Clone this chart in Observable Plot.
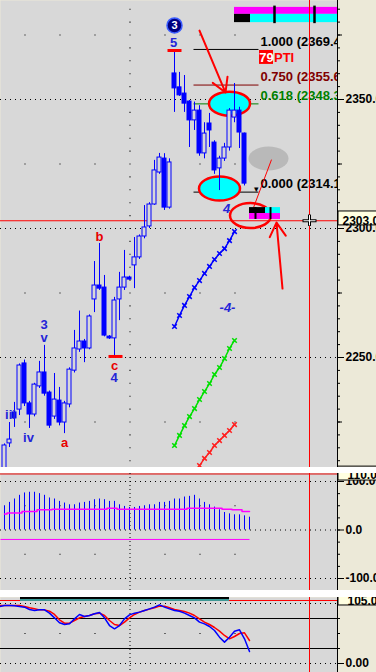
<!DOCTYPE html>
<html>
<head>
<meta charset="utf-8">
<script src="https://cdn.jsdelivr.net/npm/d3@7"></script>
<script src="https://cdn.jsdelivr.net/npm/@observablehq/plot@0.6"></script>
<style>
html,body{margin:0;padding:0;background:#fff;overflow:hidden;}
#chart{position:relative;width:376px;height:672px;overflow:hidden;background:#fff;}
.pane{position:absolute;left:0;width:376px;overflow:hidden;}
.pane svg{display:block;}
</style>
</head>
<body>
<div id="chart">
  <div class="pane" id="pricePane" style="top:0;height:467px"></div>
  <div class="pane" id="oscPane" style="top:473px;height:117px"></div>
  <div class="pane" id="stochPane" style="top:597px;height:75px"></div>
</div>
<script>
// ---------------- DATA ----------------
const opens  = [2205,2216.7,2228.7,2229.8,2247.7,2232.2,2227.9,2238.8,2244.2,2236.4,2227.1,2233.3,2224.8,2231.8,2244.9,2253.1,2256.2,2253.5,2272.5,2277.9,2277.1,2258.1,2257.4,2272.5,2277.1,2281,2285.7,2288.8,2296.9,2300.8,2309.3,2321.7,2327.1,2308.1,2360.1,2354.7,2352.3,2349.2,2341.9,2345.7,2329.1,2340.7,2333.3,2323.3,2327.1,2331.4,2343,2345.7,2336.8];
const highs  = [2216.5,2224.8,2232.6,2247.5,2249,2233,2240,2248.5,2254.7,2237,2243.8,2238.4,2233,2246,2260.5,2268,2257,2266.5,2287.2,2294.2,2281.8,2258.5,2273.3,2283,2291.5,2281.5,2296.5,2297.5,2308.9,2310,2326.4,2329.1,2329,2327,2369,2360.5,2359.3,2349.6,2349,2347.6,2341,2344.6,2334,2328,2333,2346.5,2356.2,2347,2337];
const lows   = [2203,2215.1,2222.9,2227.5,2231,2222.5,2227,2238,2235,2222.5,2226,2223.5,2220.5,2230.5,2244,2252,2248,2253,2267.4,2276,2258,2257,2250,2264.3,2276,2280,2276.7,2288,2296,2300,2309,2321,2307,2307.5,2345,2351.2,2345,2331.4,2338,2328,2327,2331.4,2321,2314.7,2326,2330,2341,2331,2316.5];
const closes = [2215.9,2218.2,2226.4,2246.9,2232.2,2227.9,2239.5,2244.2,2236.0,2223.6,2233.7,2224.8,2232.2,2245.3,2253.5,2256.2,2253.5,2265.9,2277.9,2276.7,2258.5,2257.4,2272.1,2277.1,2281,2280.2,2288.8,2296.9,2300.4,2309.3,2322.5,2327.5,2308.1,2325.6,2354.3,2351.6,2348.4,2341.9,2345.7,2329.1,2336.8,2338.0,2322.5,2327.1,2331.4,2345.7,2345.7,2337.2,2317.4];

// projection channels (start bar index + values)
const projBlueStart = 34;
const projBlue  = [2262.0,2266.3,2270.2,2273.6,2277.1,2279.8,2282.6,2285.3,2288.0,2290.3,2292.2,2295.3,2298.8];
const projGreenStart = 34;
const projGreen = [2215.9,2219.8,2223.6,2227.1,2230.2,2233.7,2236.8,2239.9,2243.4,2246.1,2249.6,2253.5,2256.6];
const projRedStart = 39;
const projRed   = [2208.1,2210.9,2213.2,2215.9,2217.8,2219.8,2221.7,2224.0];

// Fibonacci retracement
const fibRatios = ["1.000","0.750","0.618","0.000"];
const fibPrices = [2369.4,2355.6,2348.3,2314.1];
const fibColors = ["#000000","#800000","#008000","#000000"];
const fibFrom = 37.8, fibTo = 50.8, fibLabelAt = 51.2;

// wave labels
const waveText   = ["iii","iv","3","v","a","b","c","4","5"];
const waveBar    = [1.2,4.8,7.9,7.9,12,19,22,21.9,33.8];
const wavePrice  = [2227.9,2218.8,2262.8,2257.6,2216.9,2296.9,2246.7,2242.1,2372.1];
const waveIsRed  = [false,false,false,false,true,true,true,false,false];

// oscillator panel (bar 0..49)
const histValues = [50,56.9,63.9,71.5,76.4,77.8,77.8,75,71.5,66,63.9,59,55.6,52,52,55.6,56.9,59,62.5,63.9,62.5,59,59,52,48.6,46.5,46.5,48.6,50,52,52,56.9,56.9,59,63.9,63.9,68,69.4,71.5,63.9,56.9,52,47.2,41.7,36.1,33.3,31.3,31.3,29.2,26.4];
const signalValues = [33,35,35,35,38,38,38,42,42,42,43,43,43,43,43,43,43,43,43,43,43,45,45,43,43,43,43,43,43,43,43,43,43,43,43,43,43,45,45,45,45,45,45,45,43,43,42,42,38,38];
const signalFloor = -19.5;

// stochastic panel (bar -1..49)
const stochK = [95,96.7,96.7,96.1,95,93.9,90,88.3,89.4,89.4,83.9,76.1,67.8,65,66.1,74.4,81.7,78.3,80,82.8,85,76.1,63.3,57.8,63.3,74.4,81.1,83.9,85.6,88.3,91.1,93.9,97.8,93.9,91.1,88.3,87.2,83.9,80,76.1,68.9,66.1,61.7,55,43.9,35.6,43.9,53.9,56.1,41.1,20];
const stochD = [96.7,96.7,96.7,96.7,96.7,95,92.8,91.1,89.4,89.4,87.2,81.7,72.8,67.2,67.2,71.7,76.1,78.3,80,82.8,83.9,80,71.7,65,63.3,68.9,76.1,81.7,85.6,88.3,90.6,92.8,95.6,95.6,92.8,90,88.3,86.7,83.9,80,74.4,68.9,65,60,53.9,46.7,41.1,45,50,51.1,38.3];

// axis ticks
const priceTicks = [2250,2300,2350];
const oscTicks = [-100,0,100];
const stochTicks = [0];
const lastPrice = 2303.0;

// ---------------- STYLE / LAYOUT ----------------
const FONT = "Liberation Sans, Arial, sans-serif";
const BLUE = "#0000ff", BG = "#d8d8d8", AXISBG = "#ece9d8";
const LBLUE = "#2424d8", LRED = "#e80000";
const X = {domain: [-0.8, 66.6], range: [0, 337], axis: null};
const CURSOR_BAR = 61, GRID_BAR = 25.1, RIGHT_EDGE = 66.6;
const sparseBars = [4.1, 11.1, 18.1, 32.1, 39.1, 46.1];
const dotted = {stroke: "#000", strokeDasharray: "1,4"};
const sq = {symbol: "square", r: 0.6, fill: "#000", stroke: "none"};

function ellipse(rx, ry) {
  const k = 0.5523;
  return {draw(c) {
    c.moveTo(rx, 0);
    c.bezierCurveTo(rx, ry*k, rx*k, ry, 0, ry);
    c.bezierCurveTo(-rx*k, ry, -rx, ry*k, -rx, 0);
    c.bezierCurveTo(-rx, -ry*k, -rx*k, -ry, 0, -ry);
    c.bezierCurveTo(rx*k, -ry, rx, -ry*k, rx, 0);
    c.closePath();
  }};
}
const baseStyle = {background: AXISBG, fontFamily: FONT, fontSize: "12px", color: "#000", overflow: "hidden"};

// ---------------- PRICE PANEL ----------------
const bars = opens.map((o, i) => ({i, o, h: highs[i], l: lows[i], c: closes[i]}));
const upBars = bars.filter(d => d.c >= d.o), downBars = bars.filter(d => d.c < d.o);
const proj = (start, arr) => arr.map((p, k) => ({i: start + k, p}));
const fib = fibRatios.map((r, k) => ({r, p: fibPrices[k], color: fibColors[k], label: `${r} (${fibPrices[k].toFixed(1)})`}));
const waves = waveText.map((t, k) => ({t, i: waveBar[k], p: wavePrice[k], color: waveIsRed[k] ? LRED : LBLUE}));
const gridLevels = [2225, 2275, 2325, 2375];
const gridDots = d3.cross(sparseBars, gridLevels);
const vDots = d3.range(2210, 2390, 5).map(p => [GRID_BAR, p]);
const minor5 = d3.range(2210, 2390, 5), minor25 = d3.range(2225, 2390, 50);

const pricePlot = Plot.plot({
  width: 376, height: 467, marginLeft: 0, marginRight: 39, marginTop: 0, marginBottom: 0,
  style: baseStyle, color: {type: "identity"},
  x: X, y: {domain: [2250, 2350], range: [357, 99], axis: null},
  marks: [
    Plot.frame({fill: BG, stroke: "none"}),
    Plot.dot(gridDots, {x: d => d[0], y: d => d[1], ...sq}),
    Plot.dot(vDots, {x: d => d[0], y: d => d[1], ...sq}),
    Plot.ruleY(priceTicks, dotted),
    // fib lines
    Plot.link(fib, {x1: fibFrom, x2: fibTo, y1: "p", y2: "p", stroke: "color", strokeWidth: 1}),
    // ellipses (background)
    Plot.dot([{i: 52.8, p: 2327.1}], {x: "i", y: "p", r: 1, symbol: ellipse(20, 12), fill: "#b9b9b9", stroke: "none"}),
    Plot.dot([{i: 45, p: 2348.4}, {i: 43, p: 2315.5}], {x: "i", y: "p", r: 1, symbol: ellipse(20.5, 12), fill: "#00ffff", stroke: "#ff0000", strokeWidth: 2.5}),
    Plot.ruleY([lastPrice], {stroke: "#ff0000"}),
    // projections
    Plot.line(proj(projBlueStart, projBlue), {x: "i", y: "p", stroke: BLUE, clip: true}),
    Plot.dot(proj(projBlueStart, projBlue), {x: "i", y: "p", symbol: "times", r: 2.2, stroke: BLUE, clip: true}),
    Plot.line(proj(projGreenStart, projGreen), {x: "i", y: "p", stroke: "#00e000", clip: true}),
    Plot.dot(proj(projGreenStart, projGreen), {x: "i", y: "p", symbol: "times", r: 2.2, stroke: "#00e000", clip: true}),
    Plot.line(proj(projRedStart, projRed), {x: "i", y: "p", stroke: "#ff2020", clip: true}),
    Plot.dot(proj(projRedStart, projRed), {x: "i", y: "p", symbol: "times", r: 2.2, stroke: "#ff2020", clip: true}),
    // candles
    Plot.ruleX(bars, {x: "i", y1: "l", y2: "h", stroke: BLUE, clip: true}),
    Plot.rect(upBars, {x1: d => d.i - 0.4, x2: d => d.i + 0.4, y1: "o", y2: "c", fill: BG, stroke: BLUE, clip: true}),
    Plot.rect(downBars, {x1: d => d.i - 0.4, x2: d => d.i + 0.4, y1: "o", y2: "c", fill: BLUE, stroke: BLUE, clip: true}),
    // extreme markers
    Plot.link([{a: 32.6, b: 35.4, p: 2369.0}, {a: 20.8, b: 23.6, p: 2250.4}], {x1: "a", x2: "b", y1: "p", y2: "p", stroke: "#ff0000", strokeWidth: 3}),
    // wave labels
    Plot.text(waves, {x: "i", y: "p", text: "t", fill: "color", fontSize: 13, fontWeight: "bold"}),
    Plot.text([{t: "4", i: 44.4, p: 2307.8}, {t: "-4-", i: 44.6, p: 2269.4}], {x: "i", y: "p", text: "t", fill: LBLUE, fontSize: 13, fontWeight: "bold", fontStyle: "italic"}),
    Plot.dot([{i: 34, p: 2378.7}], {x: "i", y: "p", r: 7.5, fill: "#000080", stroke: "#3a5cff", strokeWidth: 1.5}),
    Plot.text([{i: 34, p: 2378.7}], {x: "i", y: "p", text: () => "3", fill: "#fff", fontSize: 11, fontWeight: "bold"}),
    // fib labels
    Plot.text(fib, {x: fibLabelAt, y: "p", text: "label", fill: "color", dy: -8, textAnchor: "start", fontSize: 13, fontWeight: "bold", clip: true}),
    Plot.rect([{a: 51, b: 53.8, p1: 2363.6, p2: 2369.0}], {x1: "a", x2: "b", y1: "p1", y2: "p2", fill: "#ff0000"}),
    Plot.text([{i: 52.4, p: 2366.2}], {x: "i", y: "p", text: () => "79", fill: "#fff", fontSize: 13, fontWeight: "bold"}),
    Plot.text([{i: 53.9, p: 2366.2}], {x: "i", y: "p", text: () => "PTI", fill: "#ff0000", fontSize: 13, fontWeight: "bold", textAnchor: "start"}),
    Plot.text([{i: 50.4, p: 2315.4}], {x: "i", y: "p", text: () => "▾", fill: "#000", fontSize: 9}),
    // target annotations
    Plot.link([{a: 53.4, pa: 2326.7, b: 49.8, pb: 2308.1}], {x1: "a", y1: "pa", x2: "b", y2: "pb", stroke: "#ff0000"}),
    Plot.dot([{i: 49.2, p: 2305.0}], {x: "i", y: "p", r: 1, symbol: ellipse(20.5, 12.5), fill: "none", stroke: "#ff0000", strokeWidth: 2.5}),
    Plot.rect([
      {a: 49, b: 52.2, p1: 2305.8, p2: 2308.1, f: "#000000"},
      {a: 52.2, b: 55.2, p1: 2305.8, p2: 2308.1, f: "#00ffff"},
      {a: 49, b: 55.2, p1: 2303.5, p2: 2305.8, f: "#ff00ff"}
    ], {x1: "a", x2: "b", y1: "p1", y2: "p2", fill: "f"}),
    Plot.ruleX([50.2, 53.2], {y1: 2303.5, y2: 2308.1, stroke: "#000", strokeWidth: 2}),
    // arrows
    Plot.arrow([{a: 39, pa: 2376.7, b: 44.2, pb: 2352.7}, {a: 55.6, pa: 2276.7, b: 54.4, pb: 2302.3}],
      {x1: "a", y1: "pa", x2: "b", y2: "pb", stroke: "#ff0000", strokeWidth: 2, headLength: 12}),
    // status bar at top
    Plot.rect([
      {a: 46, b: 66.6, p1: 2383.0, p2: 2385.7, f: "#ff00ff"},
      {a: 46, b: 49.2, p1: 2379.8, p2: 2383.0, f: "#000000"},
      {a: 49.2, b: 66.6, p1: 2379.8, p2: 2383.0, f: "#00ffff"}
    ], {x1: "a", x2: "b", y1: "p1", y2: "p2", fill: "f"}),
    Plot.ruleX([54, 62], {y1: 2379.4, y2: 2386.2, stroke: "#000", strokeWidth: 2.5}),
    // cursor
    Plot.ruleX([CURSOR_BAR], {stroke: "#ff0000"}),
    Plot.link([{a: 59.6, b: 62.4, p1: lastPrice, p2: lastPrice}, {a: CURSOR_BAR, b: CURSOR_BAR, p1: 2301.0, p2: 2305.4}],
      {x1: "a", x2: "b", y1: "p1", y2: "p2", stroke: "#000", strokeWidth: 3}),
    Plot.link([{a: 59.8, b: 62.2, p1: lastPrice, p2: lastPrice}, {a: CURSOR_BAR, b: CURSOR_BAR, p1: 2301.2, p2: 2305.2}],
      {x1: "a", x2: "b", y1: "p1", y2: "p2", stroke: "#fff", strokeWidth: 1}),
    // right axis
    Plot.ruleX([RIGHT_EDGE], {stroke: "#000"}),
    Plot.axisY(minor5, {anchor: "right", tickSize: 2, tickFormat: () => ""}),
    Plot.axisY(minor25, {anchor: "right", tickSize: 4, tickFormat: () => ""}),
    Plot.axisY(priceTicks, {anchor: "right", tickSize: 6, tickPadding: 2, tickFormat: d => d.toFixed(1), fontSize: 12, fontWeight: "bold"}),
    Plot.rect([{a: 66.8, b: 75.5, p1: 2301.2, p2: 2306.6}], {x1: "a", x2: "b", y1: "p1", y2: "p2", fill: "#ffffe1", stroke: "#000"}),
    Plot.text([lastPrice], {x: 67.6, y: d => d, text: d => d.toFixed(1), textAnchor: "start", fontSize: 12, fontWeight: "bold", fill: "#000"}),
    Plot.link([{a: RIGHT_EDGE, b: 75.5, p: 2207.9}], {x1: "a", x2: "b", y1: "p", y2: "p", stroke: "#000"})
  ]
});
document.getElementById("pricePane").appendChild(pricePlot);

// ---------------- OSCILLATOR PANEL ----------------
const hist = histValues.map((v, i) => ({i, v}));
const signal = signalValues.map((v, i) => ({i, v}));
const oscPlot = Plot.plot({
  width: 376, height: 117, marginLeft: 0, marginRight: 39, marginTop: 0, marginBottom: 0,
  style: baseStyle, color: {type: "identity"},
  x: X, y: {domain: [-100, 100], range: [105, 8], axis: null},
  marks: [
    Plot.frame({fill: BG, stroke: "none"}),
    Plot.ruleY([115.5], {stroke: "#e00000"}),
    Plot.ruleY(oscTicks, dotted),
    Plot.ruleX([GRID_BAR], {stroke: "#000", strokeDasharray: "1,3"}),
    Plot.dot(d3.cross(sparseBars, [-50, 50]), {x: d => d[0], y: d => d[1], ...sq}),
    Plot.ruleX(hist, {x: "i", y1: 0, y2: "v", stroke: BLUE}),
    Plot.line(signal, {x: "i", y: "v", stroke: "#ff00ff", curve: "step"}),
    Plot.link([{a: -0.8, b: 49, v: signalFloor}], {x1: "a", x2: "b", y1: "v", y2: "v", stroke: "#ff00ff"}),
    Plot.ruleX([CURSOR_BAR], {stroke: "#ff0000"}),
    Plot.ruleX([RIGHT_EDGE], {stroke: "#000"}),
    Plot.axisY(d3.range(-100, 101, 25), {anchor: "right", tickSize: 2, tickFormat: () => ""}),
    Plot.axisY(oscTicks, {anchor: "right", tickSize: 6, tickPadding: 2, tickFormat: d => d.toFixed(1), fontSize: 12, fontWeight: "bold"}),
    Plot.rect([{a: 66.8, b: 75.5, p1: 102, p2: 120}], {x1: "a", x2: "b", y1: "p1", y2: "p2", fill: "#ffffe1", stroke: "#000"}),
    Plot.text([110], {x: 68.6, y: d => d, dy: -1, text: d => d.toFixed(1), textAnchor: "start", fontSize: 12, fontWeight: "bold", fill: "#000"})
  ]
});
document.getElementById("oscPane").appendChild(oscPlot);

// ---------------- STOCHASTIC PANEL ----------------
const kLine = stochK.map((v, k) => ({i: k - 1, v}));
const dLine = stochD.map((v, k) => ({i: k - 1, v}));
const stochPlot = Plot.plot({
  width: 376, height: 75, marginLeft: 0, marginRight: 39, marginTop: 0, marginBottom: 0,
  style: baseStyle, color: {type: "identity"},
  x: X, y: {domain: [0, 100], range: [66, 6], axis: null},
  marks: [
    Plot.frame({fill: BG, stroke: "none"}),
    Plot.ruleY([105], {stroke: "#ff0000"}),
    Plot.ruleY([0, 100], dotted),
    Plot.ruleY([25, 75], {stroke: "#000"}),
    Plot.ruleX([GRID_BAR], {stroke: "#000", strokeDasharray: "1,3"}),
    Plot.dot(d3.cross(sparseBars, [50]), {x: d => d[0], y: d => d[1], ...sq}),
    Plot.rect([
      {a: 3.2, b: 45, p1: 106.7, p2: 111, f: "#000000"},
      {a: 3.2, b: 45, p1: 103.4, p2: 106.7, f: "#3a9e9a"}
    ], {x1: "a", x2: "b", y1: "p1", y2: "p2", fill: "f"}),
    Plot.line(dLine, {x: "i", y: "v", stroke: "#ff0000", clip: true}),
    Plot.line(kLine, {x: "i", y: "v", stroke: BLUE, clip: true}),
    Plot.ruleX([CURSOR_BAR], {stroke: "#ff0000"}),
    Plot.ruleX([RIGHT_EDGE], {stroke: "#000"}),
    Plot.axisY([25, 50, 75, 100], {anchor: "right", tickSize: 2, tickFormat: () => ""}),
    Plot.axisY(stochTicks, {anchor: "right", tickSize: 6, tickPadding: 2, tickFormat: d => d.toFixed(2), fontSize: 12, fontWeight: "bold"}),
    Plot.rect([{a: 66.8, b: 75.5, p1: 96.7, p2: 112}], {x1: "a", x2: "b", y1: "p1", y2: "p2", fill: "#ffffe1", stroke: "#000"}),
    Plot.text([105], {x: 68.6, y: d => d, dy: 1, text: d => d.toFixed(1), textAnchor: "start", fontSize: 12, fontWeight: "bold", fill: "#000"})
  ]
});
document.getElementById("stochPane").appendChild(stochPlot);
</script>
</body>
</html>
